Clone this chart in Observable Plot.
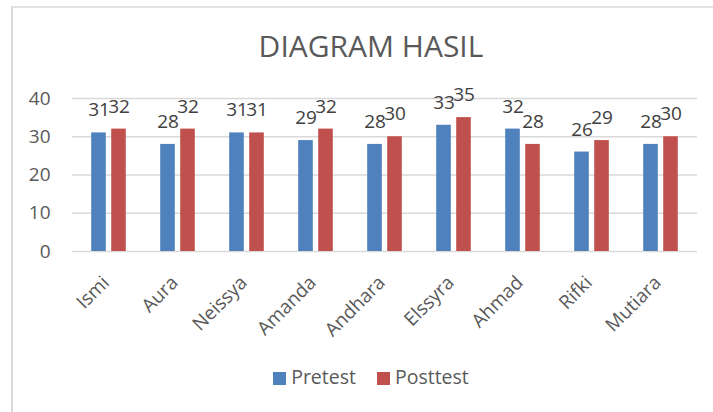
<!DOCTYPE html>
<html><head><meta charset="utf-8">
<script src="https://cdn.jsdelivr.net/npm/d3@7"></script>
<script src="https://cdn.jsdelivr.net/npm/@observablehq/plot@0.6"></script>
<style>
body{margin:0;background:#fff;font-family:"Open Sans",sans-serif;}
#wrap{position:relative;width:713px;height:412px;overflow:hidden;background:#fff;}
#frame{position:absolute;left:11px;top:6px;width:760px;height:440px;border-left:2px solid #d9d9d9;border-top:2px solid #e3e3e3;box-sizing:border-box;}
#title{position:absolute;left:11px;width:720px;top:31px;text-align:center;font-size:30px;line-height:30px;color:#595959;}
#chart{position:absolute;left:0;top:72px;}
#legend{position:absolute;left:11px;width:720px;top:367px;display:flex;justify-content:center;align-items:flex-start;font-size:19.5px;line-height:19px;color:#595959;}
.item{display:flex;align-items:flex-start;}
.sw{width:13px;height:13px;margin-top:5px;margin-right:5px;}
.item + .item{margin-left:21px;}
</style>
</head><body>
<div id="wrap">
  <div id="frame"></div>
  <div id="title">DIAGRAM HASIL</div>
  <div id="chart"></div>
  <div id="legend"></div>
</div>
<script>
const names = ["Ismi","Aura","Neissya","Amanda","Andhara","Elssyra","Ahmad","Rifki","Mutiara"];
const pretest = [31,28,31,29,28,33,32,26,28];
const posttest = [32,32,31,32,30,35,28,29,30];
const yTicks = [0,10,20,30,40];
const seriesNames = ["Pretest","Posttest"];
const seriesColors = ["#4F81BD","#C0504D"];

const data = names.map((name,i)=>({name, pretest: pretest[i], posttest: posttest[i]}));

const plot = Plot.plot({
  width: 713,
  height: 290,
  marginLeft: 72,
  marginRight: 16,
  marginTop: 26,
  marginBottom: 111,
  style: {fontFamily: '"Open Sans", sans-serif', fontSize: "19px", color: "#595959", background: "transparent", overflow: "visible"},
  x: {domain: names, padding: 0, label: null},
  y: {domain: [0, 40], label: null},
  marks: [
    Plot.ruleY(yTicks, {stroke: "#d9d9d9", strokeWidth: 1.5}),
    Plot.axisY({ticks: yTicks, tickSize: 0, tickPadding: 22, label: null, fontSize: 19}),
    Plot.axisX({tickSize: 0, tickRotate: -45, tickPadding: 28, dx: -3, label: null, fontSize: 19}),
    Plot.barY(data, {x: "name", y: "pretest", fill: seriesColors[0], insetLeft: 17.2, insetRight: 37.2}),
    Plot.barY(data, {x: "name", y: "posttest", fill: seriesColors[1], insetLeft: 37.2, insetRight: 17.2}),
    Plot.text(data, {x: "name", y: "pretest", text: d => String(d.pretest), dx: -10, dy: -16.5, lineAnchor: "bottom", fill: "#404040", fontSize: 19}),
    Plot.text(data, {x: "name", y: "posttest", text: d => String(d.posttest), dx: 10, dy: -16.5, lineAnchor: "bottom", fill: "#404040", fontSize: 19})
  ]
});
document.getElementById("chart").appendChild(plot);

const legend = document.getElementById("legend");
seriesNames.forEach((s,i)=>{
  const item = document.createElement("div");
  item.className = "item";
  const sw = document.createElement("div");
  sw.className = "sw";
  sw.style.background = seriesColors[i];
  const t = document.createElement("span");
  t.textContent = s;
  item.appendChild(sw); item.appendChild(t);
  legend.appendChild(item);
});
</script>
</body></html>
